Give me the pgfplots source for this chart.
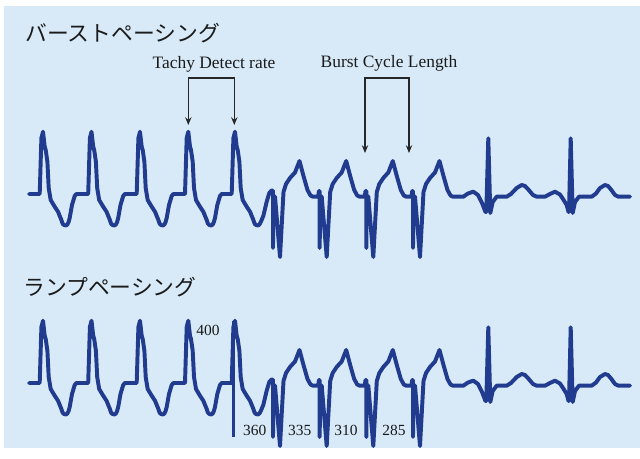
\documentclass[border=0pt]{standalone}
\usepackage{pgfplots}
\pgfplotsset{compat=1.18}
\usepackage{pgfplotstable}
\usetikzlibrary{arrows.meta}
\usepackage{fontspec}
\setmainfont{Liberation Serif}
\newfontfamily\jp{Noto Sans CJK JP}

\definecolor{bgblue}{RGB}{216,234,248}
\definecolor{ecg}{RGB}{33,59,143}
\definecolor{txt}{RGB}{26,26,26}

% ECG trace in picture pixels (x right, y down), top strip
\pgfplotstableread{
x y
29.0 194
39.7 194
41.4 138
43.0 131.7
44.7 146.7
45.7 150
47.4 161.7
48.7 188
50.7 200
54.7 206.7
58.0 211.7
61.4 220
62.5 223.5
64.0 225
66.0 225.5
67.4 224.5
68.6 222
69.7 218
72.0 205
74.7 196
76.4 194
88.2 194
89.9 138
91.5 131.7
93.2 146.7
94.2 150
95.9 161.7
97.2 188
99.2 200
103.2 206.7
106.5 211.7
109.9 220
111.0 223.5
112.5 225
114.5 225.5
115.9 224.5
117.1 222
118.2 218
120.5 205
123.2 196
124.9 194
136.7 194
138.4 138
140.0 131.7
141.7 146.7
142.7 150
144.4 161.7
145.7 188
147.7 200
151.7 206.7
155.0 211.7
158.4 220
159.5 223.5
161.0 225
163.0 225.5
164.4 224.5
165.6 222
166.7 218
169.0 205
171.7 196
173.4 194
185.0 194
186.7 138
188.3 131.7
190.0 146.7
191.0 150
192.7 161.7
194.0 188
196.0 200
200.0 206.7
203.3 211.7
206.7 220
207.8 223.5
209.3 225
211.3 225.5
212.7 224.5
213.9 222
215.0 218
217.3 205
220.0 196
221.7 194
231.7 194
233.4 138
235.0 131.7
236.7 146.7
237.7 150
239.4 161.7
240.7 188
242.7 200
246.7 206.7
250.0 211.7
253.4 220
254.5 223.5
256.0 225
258.0 225.5
259.4 224.5
260.8 222
263.3 216
266.7 201.7
269.3 193
271.5 190.5
273.0 190.5
273.0 248
273.4 200
275.0 196.5
280.0 257
283.5 192
286.0 184
290.0 178
295.0 172.5
299.5 161
303.5 176
307.5 190
310.5 195.5
313.0 196.7
318.2 196.7
318.9 191
319.7 191
319.7 248
320.1 200
321.7 196.5
326.7 257
330.2 192
332.7 184
336.7 178
341.7 172.5
346.2 161
350.2 176
354.2 190
357.2 195.5
359.7 196.7
364.8 196.7
365.5 191
366.3 191
366.3 248
366.7 200
368.3 196.5
373.3 257
376.8 192
379.3 184
383.3 178
388.3 172.5
392.8 161
396.8 176
400.8 190
403.8 195.5
406.3 196.7
411.5 196.7
412.2 191
413.0 191
413.0 248
413.4 200
415.0 196.5
420.0 257
423.5 192
426.0 184
430.0 178
435.0 172.5
439.5 161
443.5 176
447.5 190
450.5 195.5
453.0 196.7
463.3 196.7
468.0 193.5
473.3 191.7
478.0 195
482.0 203
485.5 212
486.3 212
488.3 138.3
490.3 213
492.7 202
496.7 196.7
506.7 196.7
511.0 194
516.7 188
521.7 185
525.0 186
528.3 189.5
533.0 195
536.7 196.7
545.0 196.7
550.0 194
555.0 191.7
560.0 194.5
563.0 199
566.7 205
568.5 212
569.0 212
570.7 138.3
572.7 213
575.0 202
579.0 196.7
591.7 196.7
596.0 193.5
600.0 188
605.0 185
608.0 186
611.0 189.5
615.0 195
618.3 196.7
630.0 196.7
}\ecgtrace

\begin{document}
\begin{tikzpicture}
\begin{axis}[
    x=0.025cm, y=0.025cm,
    xmin=0, xmax=640, ymin=0, ymax=459,
    y dir=reverse,
    hide axis,
    clip=false,
]
% page and light blue panel
\addplot[fill=white, draw=none] coordinates {(0,0) (640,0) (640,459) (0,459)} -- cycle;
\addplot[fill=bgblue, draw=none] coordinates {(4,6) (640,6) (640,448) (4,448)} -- cycle;

% burst pacing (top)
\addplot[ecg, line width=2.8pt, line join=round, line cap=round] table[x=x, y=y] {\ecgtrace};
% ramp pacing (bottom): same trace, 189 px lower
\addplot[ecg, line width=2.8pt, line join=round, line cap=round] table[x=x, y expr=\thisrow{y}+189] {\ecgtrace};
\addplot[ecg, line width=2.4pt] coordinates {(233.3,321) (233.3,437)};

% brackets
\addplot[black!85, line width=1pt, {Stealth[length=5.5pt,width=4.5pt]}-{Stealth[length=5.5pt,width=4.5pt]}]
    coordinates {(188.3,125) (188.3,78) (234.3,78) (234.3,125)};
\addplot[black!85, line width=1pt, {Stealth[length=5.5pt,width=4.5pt]}-{Stealth[length=5.5pt,width=4.5pt]}]
    coordinates {(365,153) (365,78) (409,78) (409,153)};

\node[anchor=west, text=txt, inner sep=0pt] at (axis cs:25,33) {\jp\fontsize{15.5}{18}\selectfont バーストペーシング};
\node[anchor=west, text=txt, inner sep=0pt] at (axis cs:23,287) {\jp\fontsize{15.5}{18}\selectfont ランプペーシング};

\node[text=txt, inner sep=0pt] at (axis cs:214,64) {\fontsize{12.4}{14}\selectfont Tachy Detect rate};
\node[text=txt, inner sep=0pt] at (axis cs:389,63) {\fontsize{12.4}{14}\selectfont Burst Cycle Length};

\node[text=txt, inner sep=0pt] at (axis cs:208,330) {\fontsize{11}{13}\selectfont 400};
\node[text=txt, inner sep=0pt] at (axis cs:254.7,430) {\fontsize{11}{13}\selectfont 360};
\node[text=txt, inner sep=0pt] at (axis cs:299.7,430) {\fontsize{11}{13}\selectfont 335};
\node[text=txt, inner sep=0pt] at (axis cs:346,430) {\fontsize{11}{13}\selectfont 310};
\node[text=txt, inner sep=0pt] at (axis cs:394,430) {\fontsize{11}{13}\selectfont 285};
\end{axis}
\end{tikzpicture}
\end{document}
